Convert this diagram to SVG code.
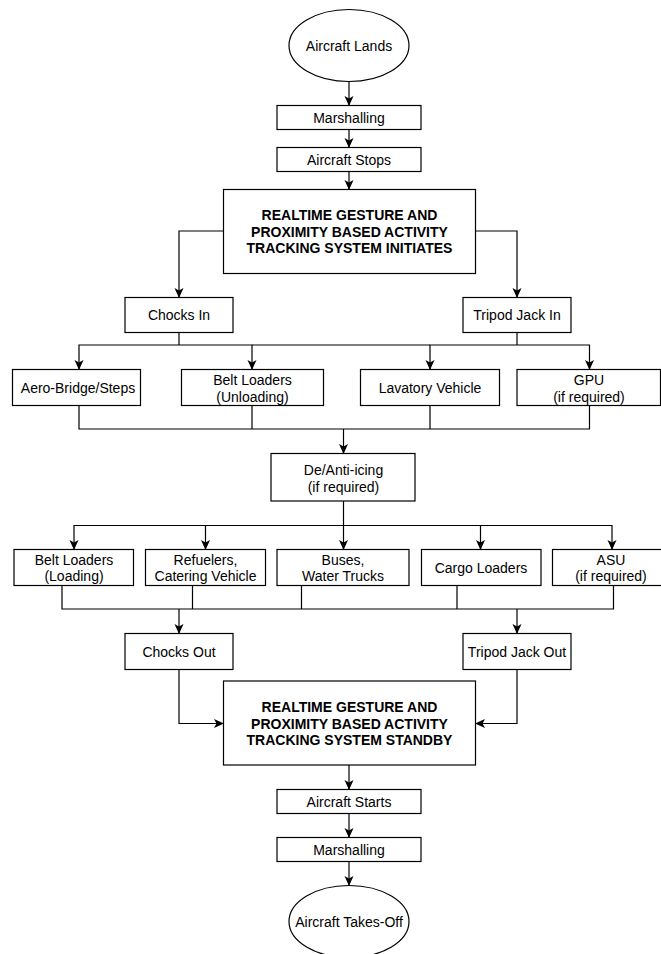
<svg xmlns="http://www.w3.org/2000/svg" width="661" height="954" viewBox="0 0 661 954">
<defs>
<style>
.n{fill:#fff;stroke:#000;stroke-width:1.2}
.t{font-family:"Liberation Sans",Arial,sans-serif;font-size:14px;fill:#000;text-anchor:middle}
.b{font-weight:bold}
.c{fill:none;stroke:#000;stroke-width:1.2}
.a{marker-end:url(#arr)}
</style>
<marker id="arr" markerUnits="userSpaceOnUse" markerWidth="10" markerHeight="10" viewBox="0 0 10 9" refX="9.5" refY="4.5" orient="auto">
<path d="M0,0 L10,4.5 L0,9 L2.5,4.5 z" fill="#000"/>
</marker>
</defs>
<rect width="661" height="954" fill="#fff"/>
<g id="connectors">
<path class="c a" d="M349,81.5 V105.5"/>
<path class="c a" d="M349,129.5 V147.5"/>
<path class="c a" d="M349,171.5 V189.5"/>
<path class="c a" d="M223.5,231 H179 V297.5"/>
<path class="c a" d="M475.5,231 H517 V297.5"/>
<path class="c" d="M179,332.5 V345"/>
<path class="c a" d="M179,345 H79 V369.5"/>
<path class="c a" d="M179,345 H252 V369.5"/>
<path class="c" d="M252,345 H430"/>
<path class="c" d="M517,332.5 V345"/>
<path class="c a" d="M517,345 H430 V369.5"/>
<path class="c a" d="M517,345 H589.5 V369.5"/>
<path class="c" d="M79,405.5 V429 H589.5 V405.5 M252,405.5 V429 M430,405.5 V429"/>
<path class="c a" d="M343.5,429 V453.5"/>
<path class="c" d="M343.5,501 V525.5"/>
<path class="c a" d="M343.5,525.5 H74 V549.5"/>
<path class="c a" d="M343.5,525.5 H205.5 V549.5"/>
<path class="c a" d="M343.5,525.5 V549.5"/>
<path class="c a" d="M343.5,525.5 H480.5 V549.5"/>
<path class="c a" d="M343.5,525.5 H612 V549.5"/>
<path class="c" d="M62,585.5 V609 H613.5 V585.5 M192.5,585.5 V609 M301.5,585.5 V609 M457,585.5 V609"/>
<path class="c a" d="M179,609 V633.5"/>
<path class="c a" d="M517,609 V633.5"/>
<path class="c a" d="M179,669.5 V723.5 H223.5"/>
<path class="c a" d="M517,669.5 V723.5 H475.5"/>
<path class="c a" d="M349,765 V789.5"/>
<path class="c a" d="M349,813.5 V837.5"/>
<path class="c a" d="M349,861.5 V885.5"/>
</g>
<g id="aircraft-lands"><ellipse class="n" cx="349" cy="45.5" rx="60" ry="36"/><text class="t" x="349" y="50.5">Aircraft Lands</text></g>
<g id="marshalling-1"><rect class="n" x="277" y="105.5" width="144" height="24"/><text class="t" x="349" y="122.5">Marshalling</text></g>
<g id="aircraft-stops"><rect class="n" x="277" y="147.5" width="144" height="24"/><text class="t" x="349" y="164.5">Aircraft Stops</text></g>
<g id="tracking-initiates"><rect class="n" x="223.5" y="189.5" width="252" height="84"/>
<text class="t b" x="349.5" y="220">REALTIME GESTURE AND</text>
<text class="t b" x="349.5" y="236.5">PROXIMITY BASED ACTIVITY</text>
<text class="t b" x="349.5" y="253">TRACKING SYSTEM INITIATES</text></g>
<g id="chocks-in"><rect class="n" x="125" y="297.5" width="108" height="35"/><text class="t" x="179" y="320">Chocks In</text></g>
<g id="tripod-jack-in"><rect class="n" x="463" y="297.5" width="108" height="35"/><text class="t" x="517" y="320">Tripod Jack In</text></g>
<g id="aero-bridge"><rect class="n" x="12.5" y="369.5" width="128" height="36"/><text class="t" x="78" y="392.5">Aero-Bridge/Steps</text></g>
<g id="belt-loaders-unloading"><rect class="n" x="181.5" y="369.5" width="142" height="36"/><text class="t" x="252.5" y="385">Belt Loaders</text><text class="t" x="252.5" y="401.5">(Unloading)</text></g>
<g id="lavatory-vehicle"><rect class="n" x="360.5" y="369.5" width="139" height="36"/><text class="t" x="430" y="392.5">Lavatory Vehicle</text></g>
<g id="gpu"><rect class="n" x="517" y="369.5" width="143.5" height="36"/><text class="t" x="589" y="385">GPU</text><text class="t" x="589" y="401.5">(if required)</text></g>
<g id="de-anti-icing"><rect class="n" x="271" y="453.5" width="144" height="47.5"/><text class="t" x="343.5" y="475">De/Anti-icing</text><text class="t" x="343.5" y="491.5">(if required)</text></g>
<g id="belt-loaders-loading"><rect class="n" x="14" y="549.5" width="119.5" height="36"/><text class="t" x="74" y="564.5">Belt Loaders</text><text class="t" x="74" y="581">(Loading)</text></g>
<g id="refuelers"><rect class="n" x="145.5" y="549.5" width="120" height="36"/><text class="t" x="205.5" y="564.5">Refuelers,</text><text class="t" x="205.5" y="581">Catering Vehicle</text></g>
<g id="buses"><rect class="n" x="277" y="549.5" width="132" height="36"/><text class="t" x="343" y="564.5">Buses,</text><text class="t" x="343" y="581">Water Trucks</text></g>
<g id="cargo-loaders"><rect class="n" x="421.5" y="549.5" width="119.5" height="36"/><text class="t" x="481" y="572.5">Cargo Loaders</text></g>
<g id="asu"><rect class="n" x="552.5" y="549.5" width="119" height="36"/><text class="t" x="611" y="564.5">ASU</text><text class="t" x="611" y="581">(if required)</text></g>
<g id="chocks-out"><rect class="n" x="125" y="633.5" width="108" height="36"/><text class="t" x="179" y="656.5">Chocks Out</text></g>
<g id="tripod-jack-out"><rect class="n" x="463" y="633.5" width="108" height="36"/><text class="t" x="517" y="656.5">Tripod Jack Out</text></g>
<g id="tracking-standby"><rect class="n" x="223.5" y="681" width="252" height="84"/>
<text class="t b" x="349.5" y="712">REALTIME GESTURE AND</text>
<text class="t b" x="349.5" y="728.5">PROXIMITY BASED ACTIVITY</text>
<text class="t b" x="349.5" y="745">TRACKING SYSTEM STANDBY</text></g>
<g id="aircraft-starts"><rect class="n" x="277" y="789.5" width="144" height="24"/><text class="t" x="349" y="806.5">Aircraft Starts</text></g>
<g id="marshalling-2"><rect class="n" x="277" y="837.5" width="144" height="24"/><text class="t" x="349" y="854.5">Marshalling</text></g>
<g id="aircraft-takes-off"><ellipse class="n" cx="349" cy="921.5" rx="60" ry="36"/><text class="t" x="349" y="926.5">Aircraft Takes-Off</text></g>
</svg>
